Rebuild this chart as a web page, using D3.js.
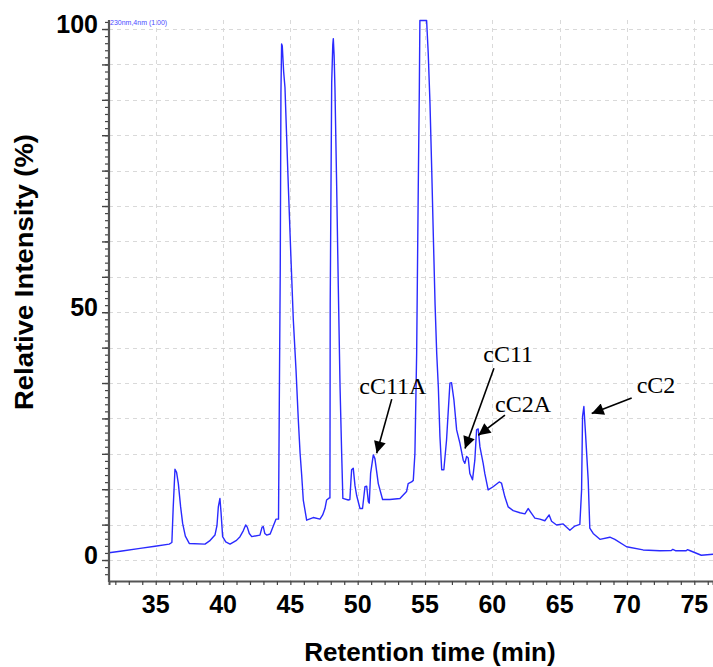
<!DOCTYPE html>
<html>
<head>
<meta charset="utf-8">
<script src="https://cdn.jsdelivr.net/npm/d3@7"></script>
<style>
  html, body { margin: 0; padding: 0; background: #fff; }
  svg { display: block; }
</style>
</head>
<body>
<svg id="chart" width="713" height="667"></svg>
<script>
// ---- data (retention time in min, relative intensity in %) ----
const retentionTime = [
  31.53, 32.5, 33.84, 34.95, 36.0, 36.2, 36.3, 36.43, 36.55, 36.68, 36.85, 37.0, 37.2, 37.5,
  38.66, 39.0, 39.4, 39.55, 39.65, 39.77, 39.85, 39.97, 40.2, 40.52, 41.0, 41.26, 41.5, 41.68,
  41.8, 41.95, 42.13, 42.74, 42.9, 42.99, 43.1, 43.24, 43.5, 43.93, 44.12, 44.18, 44.25, 44.3,
  44.35, 44.4, 44.5, 44.6, 44.72, 44.85, 45.03, 45.22, 45.42, 45.59, 45.72, 45.84, 45.96, 46.21,
  46.7, 47.2, 47.4, 47.57, 47.69, 47.9, 47.94, 47.96, 48.07, 48.15, 48.19, 48.25, 48.31, 48.44,
  48.56, 48.69, 48.81, 48.9, 49.3, 49.42, 49.5, 49.55, 49.67, 49.8, 49.92, 50.17, 50.36, 50.54,
  50.67, 50.79, 50.86, 50.96, 51.16, 51.28, 51.53, 51.85, 52.39, 53.14, 53.63, 53.75, 54.0,
  54.13, 54.25, 54.38, 54.5, 54.58, 54.62, 55.12, 55.24, 55.37, 55.5, 55.62, 55.75, 55.87,
  55.99, 56.11, 56.24, 56.4, 56.6, 56.85, 56.97, 57.15, 57.35, 57.59, 57.84, 57.96, 58.09,
  58.21, 58.33, 58.53, 58.7, 58.83, 58.95, 59.08, 59.32, 59.44, 59.69, 60.06, 60.51, 60.68,
  60.93, 61.18, 61.55, 62.05, 62.42, 62.66, 62.91, 63.16, 63.53, 63.9, 64.22, 64.4, 64.77,
  65.26, 65.5, 65.76, 66.13, 66.5, 66.63, 66.7, 66.8, 66.92, 67.12, 67.24, 67.49, 67.99,
  68.73, 69.1, 69.97, 71.2, 72.44, 73.3, 73.4, 73.6, 74.4, 74.5, 74.7, 75.52, 76.39
];
const intensity = [
  1.37, 1.7, 2.2, 2.6, 3.0, 3.3, 10, 17.1, 16.5, 14.4, 10, 6.9, 4.5, 3.1,
  3.0, 3.6, 4.7, 6.5, 10.0, 11.6, 9, 4.4, 3.4, 3.0, 3.7, 4.4, 5.5, 6.6,
  6.2, 5.0, 4.4, 4.7, 6.2, 6.3, 5.0, 4.7, 4.9, 7.7, 7.7, 30, 55, 88,
  97.2, 96.8, 92, 89, 80, 70.3, 57.8, 45.2, 35.8, 26.4, 20.2, 16, 11.3, 7.5,
  8.0, 7.7, 8.5, 9.7, 11.3, 11.7, 11.7, 48.4, 90, 97, 98.2, 95, 89.1, 70.3,
  51.5, 32.6, 20.1, 11.6, 11.3, 11.4, 15, 17.0, 17.3, 14, 12.2, 9.7, 9.7, 13.8,
  13.9, 11.0, 10.7, 16.3, 19.8, 19.1, 14.4, 11.4, 11.4, 11.6, 12.9, 14.4, 14.7,
  15.0, 20, 38.9, 70.3, 89, 101.6, 101.6, 95.4, 86, 73.4, 60.9, 48, 38.9,
  32.6, 23.2, 17.0, 17.0, 22.6, 33.3, 33.4, 30.1, 24.5, 22.0, 18.8, 18.2, 19.5,
  19.2, 16.3, 15.1, 18.8, 24.5, 24.7, 21.3, 18.2, 16.3, 13.2, 13.8, 14.7, 14.5,
  11.9, 10.0, 9.3, 8.9, 8.7, 9.7, 8.8, 7.9, 7.7, 7.4, 8.5, 7.3, 6.6,
  6.8, 6.2, 5.6, 6.4, 6.7, 13.2, 27.0, 28.9, 23.9, 15.1, 6.0, 5.0, 3.9,
  4.3, 3.9, 2.5, 1.9, 1.75, 1.8, 2.0, 1.75, 1.75, 1.95, 1.75, 0.9, 1.1
];

// axis ticks
const xTickValues = [35, 40, 45, 50, 55, 60, 65, 70, 75];
const xTickLabels = ["35", "40", "45", "50", "55", "60", "65", "70", "75"];
const yTickValues = [0, 46.67, 100];
const yTickLabels = ["0", "50", "100"];
const yGridStep = 100 / 15;

// peak annotations: label anchor (t, v), arrow tail (t, v), arrow tip (t, v)
const peakNames = ["cC11A", "cC11", "cC2A", "cC2"];
const labelT = [50.12, 59.33, 60.2, 70.72];
const labelV = [31.3, 37.3, 27.9, 31.4];
const tailT = [52.53, 60.12, 60.94, 70.35];
const tailV = [30.3, 36.1, 27.3, 30.5];
const tipT = [51.41, 57.97, 58.96, 67.38];
const tipV = [20.1, 21.0, 23.5, 27.6];

const channelLabel = "230nm,4nm (1.00)";
const xTitle = "Retention time (min)";
const yTitle = "Relative Intensity (%)";

// ---- drawing ----
const svg = d3.select("#chart");
const W = 713, H = 667;
const plot = { left: 109, right: 713, top: 20, bottom: 581 };

const x = d3.scaleLinear().domain([31.53, 76.39]).range([plot.left, plot.right]);
const y = d3.scaleLinear().domain([-3.95, 101.7]).range([plot.bottom, plot.top]);

const sansBold = "'Liberation Sans', Arial, sans-serif";

svg.append("defs").append("clipPath").attr("id", "clip")
  .append("rect")
  .attr("x", plot.left).attr("y", plot.top - 1)
  .attr("width", plot.right - plot.left).attr("height", plot.bottom - plot.top + 1);

// grid
const grid = svg.append("g").attr("stroke", "#d9d9d9").attr("stroke-width", 1)
  .attr("stroke-dasharray", "4,4").attr("fill", "none");
grid.selectAll("line.v").data(xTickValues).join("line").attr("class", "v")
  .attr("x1", d => Math.round(x(d)) + 0.5).attr("x2", d => Math.round(x(d)) + 0.5)
  .attr("y1", plot.top).attr("y2", plot.bottom);
const yGridValues = d3.range(0, 16).map(i => i * yGridStep);
grid.selectAll("line.h").data(yGridValues).join("line").attr("class", "h")
  .attr("x1", plot.left).attr("x2", plot.right)
  .attr("y1", d => Math.round(y(d)) + 0.5).attr("y2", d => Math.round(y(d)) + 0.5);

// channel label
svg.append("text").attr("x", plot.left + 1).attr("y", plot.top + 5)
  .attr("font-family", sansBold).attr("font-size", 7).attr("fill", "#4a4aff")
  .text(channelLabel);

// curve
const pts = retentionTime.map((t, i) => [t, intensity[i]]);
svg.append("path").datum(pts)
  .attr("clip-path", "url(#clip)")
  .attr("fill", "none").attr("stroke", "#2a2aff").attr("stroke-width", 1.4)
  .attr("stroke-linejoin", "round")
  .attr("d", d3.line().x(d => x(d[0])).y(d => y(d[1])));

// x axis
const xMinor = d3.range(32, 77);
const gx = svg.append("g").attr("transform", `translate(0,${plot.bottom})`);
gx.call(d3.axisBottom(x).tickValues(xMinor).tickSize(4).tickFormat(""));
gx.select(".domain").attr("stroke", "#555").attr("stroke-width", 2);
gx.selectAll(".tick line").attr("stroke", "#444").attr("stroke-width", 1.2);

svg.append("g").selectAll("text").data(xTickValues).join("text")
  .attr("x", d => x(d)).attr("y", 613)
  .attr("text-anchor", "middle")
  .attr("font-family", sansBold).attr("font-weight", "bold").attr("font-size", 25)
  .attr("fill", "#000")
  .text((d, i) => xTickLabels[i]);

// y axis
const yMinor = d3.range(-3, 77).map(i => i * yGridStep / 5).filter(v => v >= -3.95 && v <= 101.7);
const gyMinor = svg.append("g").attr("transform", `translate(${plot.left},0)`);
gyMinor.call(d3.axisLeft(y).tickValues(yMinor).tickSize(4).tickFormat(""));
gyMinor.selectAll(".tick line").attr("stroke", "#444").attr("stroke-width", 1.2);
gyMinor.select(".domain").remove();
const gyMajor = svg.append("g").attr("transform", `translate(${plot.left},0)`);
gyMajor.call(d3.axisLeft(y).tickValues(yGridValues).tickSize(7).tickFormat(""));
gyMajor.selectAll(".tick line").attr("stroke", "#444").attr("stroke-width", 1.4);
gyMajor.select(".domain").remove();
svg.append("line")
  .attr("x1", plot.left).attr("x2", plot.left)
  .attr("y1", plot.top).attr("y2", plot.bottom + 1)
  .attr("stroke", "#555").attr("stroke-width", 2.2);

svg.append("g").selectAll("text").data(yTickValues).join("text")
  .attr("x", 98).attr("y", d => y(d) + 4)
  .attr("text-anchor", "end")
  .attr("font-family", sansBold).attr("font-weight", "bold").attr("font-size", 25)
  .attr("fill", "#000")
  .text((d, i) => yTickLabels[i]);

// axis titles
svg.append("text")
  .attr("x", 430).attr("y", 661)
  .attr("text-anchor", "middle")
  .attr("font-family", sansBold).attr("font-weight", "bold").attr("font-size", 26)
  .attr("fill", "#000")
  .text(xTitle);
svg.append("text")
  .attr("transform", "translate(33,272) rotate(-90)")
  .attr("text-anchor", "middle")
  .attr("font-family", sansBold).attr("font-weight", "bold").attr("font-size", 26)
  .attr("textLength", 276).attr("lengthAdjust", "spacingAndGlyphs")
  .attr("fill", "#000")
  .text(yTitle);

// annotations
const defs = svg.select("defs");
defs.append("marker").attr("id", "arrow")
  .attr("viewBox", "0 0 10 10").attr("refX", 10).attr("refY", 5)
  .attr("markerWidth", 14).attr("markerHeight", 12)
  .attr("markerUnits", "userSpaceOnUse")
  .attr("orient", "auto")
  .append("path").attr("d", "M0,0 L10,5 L0,10 z").attr("fill", "#000");

const ann = svg.append("g");
peakNames.forEach((name, i) => {
  ann.append("line")
    .attr("x1", x(tailT[i])).attr("y1", y(tailV[i]))
    .attr("x2", x(tipT[i])).attr("y2", y(tipV[i]))
    .attr("stroke", "#000").attr("stroke-width", 1.6)
    .attr("marker-end", "url(#arrow)");
  ann.append("text")
    .attr("x", x(labelT[i])).attr("y", y(labelV[i]))
    .attr("font-family", "'Liberation Serif', 'Times New Roman', serif")
    .attr("font-size", 24).attr("fill", "#000")
    .text(name);
});
</script>
</body>
</html>
